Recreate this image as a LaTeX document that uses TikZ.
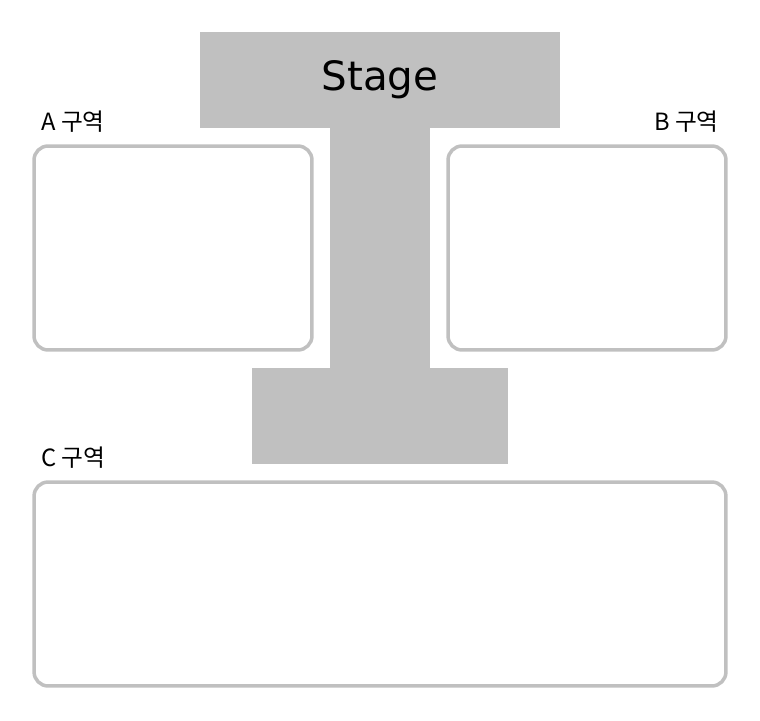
\documentclass[tikz,border=0pt]{standalone}
\usepackage{fontspec}
\setmainfont{DejaVu Sans}
\newfontfamily\krfont{Noto Sans CJK KR}
\definecolor{stagegray}{HTML}{C0C0C0}
\tikzset{
  stagepart/.style={rectangle, fill=stagegray, inner sep=0pt},
  zonebox/.style={rectangle, draw=stagegray, line width=2pt, rounded corners=8pt, inner sep=0pt},
  zonelabel/.style={font=\krfont\fontsize{13.5}{16}\selectfont, inner sep=0pt}
}
\begin{document}
\begin{tikzpicture}[x=0.02cm, y=-0.02cm]
  \useasboundingbox (0,0) rectangle (760,720);

  % Stage
  \node (stem) at (380,248) [stagepart, minimum width=2cm, minimum height=4.8cm] {};
  \node (stage) at (380,80) [stagepart, minimum width=7.2cm, minimum height=1.92cm,
    font=\fontsize{23}{28}\selectfont] {Stage};
  \node (runway) at (380,416) [stagepart, minimum width=5.12cm, minimum height=1.92cm] {};

  % Zones
  \node (zoneA) at (173,248) [zonebox, minimum width=5.56cm, minimum height=4.08cm] {};
  \node (zoneB) at (587,248) [zonebox, minimum width=5.56cm, minimum height=4.08cm] {};
  \node (zoneC) at (380,584) [zonebox, minimum width=13.84cm, minimum height=4.08cm] {};

  % Labels
  \node (labelA) [zonelabel, anchor=base west] at (41,130) {A 구역};
  \node (labelB) [zonelabel, anchor=base east] at (719,130) {B 구역};
  \node (labelC) [zonelabel, anchor=base west] at (41,466) {C 구역};
\end{tikzpicture}
\end{document}
